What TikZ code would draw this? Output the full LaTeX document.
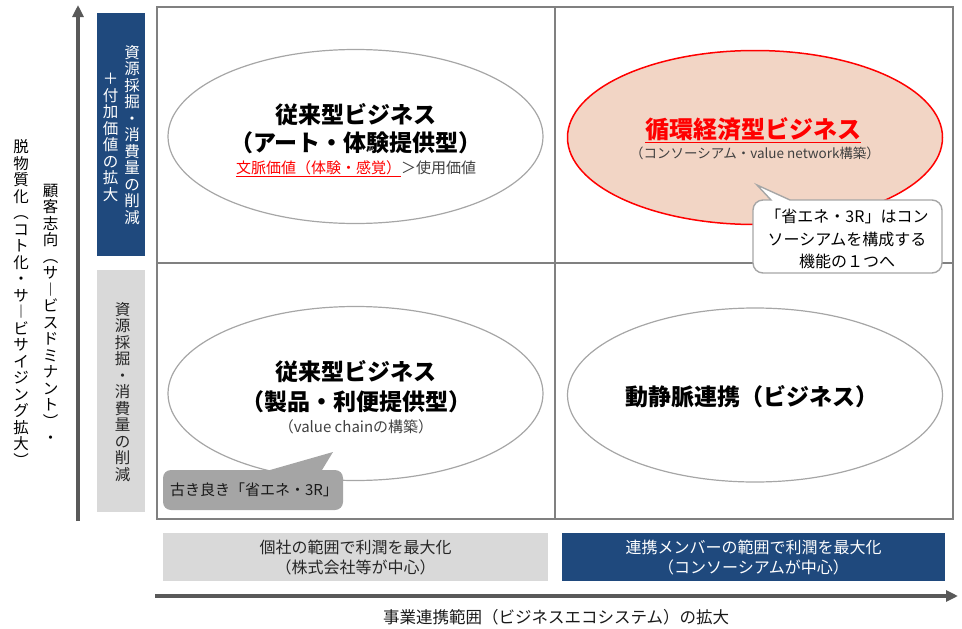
\documentclass[tikz,border=0pt]{standalone}
\usepackage{fontspec}
\setmainfont{Noto Sans CJK JP}
\usetikzlibrary{arrows.meta,shapes.geometric}
\definecolor{gridgray}{HTML}{808080}
\definecolor{ellgray}{HTML}{A6A6A6}
\definecolor{axisgray}{HTML}{595959}
\definecolor{navy}{HTML}{1F497D}
\definecolor{lightgray}{HTML}{D9D9D9}
\definecolor{midgray}{HTML}{A5A5A5}
\definecolor{peach}{HTML}{F2D5C5}
\definecolor{txtgray}{HTML}{404040}
\definecolor{pred}{HTML}{FF0000}
\newcommand{\fsz}[2]{\fontsize{#1}{#2}\selectfont}
\begin{document}
\begin{tikzpicture}[x=1pt,y=-1pt,
  gridline/.style={draw=gridgray, line width=1.8pt},
  ell/.style={ellipse, draw=ellgray, line width=1.2pt, inner sep=0pt, minimum width=375pt, minimum height=174pt},
  axisarrow/.style={draw=axisgray, line width=3.5pt, -{Triangle[length=12pt,width=11pt]}},
  bigtitle/.style={font=\fsz{23}{28}\bfseries, inner sep=0pt, text=black},
  small/.style={font=\fsz{15}{18}, inner sep=0pt, text=txtgray},
  vtext/.style={align=center, inner sep=0pt, font=\fsz{15.5}{16.5}},
  boxtext/.style={align=center, inner sep=0pt, font=\fsz{16}{20}},
  callouttext/.style={align=center, inner sep=0pt, font=\fsz{16}{22.5}, text=black}
]
\useasboundingbox (0,0) rectangle (962,629);

% grid
\draw[gridline] (157,7) rectangle (953,519);
\draw[gridline] (555,7) -- (555,519);
\draw[gridline] (157,263) -- (953,263);

% axes
\coordinate (ya) at (78,521);
\coordinate (yb) at (78,5);
\coordinate (xa) at (155,596);
\coordinate (xb) at (958,596);
\draw[axisarrow] (ya) -- (yb);
\draw[axisarrow] (xa) -- (xb);

% outer vertical labels
\node[vtext, text=black] (vl1) at (21,303) {脱\\物\\質\\化\\︵\\コ\\ト\\化\\・\\サ\\︱\\ビ\\サ\\イ\\ジ\\ン\\グ\\拡\\大\\︶};
\node[vtext, text=black] (vl2) at (50.5,314) {顧\\客\\志\\向\\︵\\サ\\︱\\ビ\\ス\\ド\\ミ\\ナ\\ン\\ト\\︶\\・};

% left label boxes
\node[fill=navy, minimum width=48pt, minimum height=243pt, inner sep=0pt] (bluebox) at (121,134.5) {};
\node[vtext, text=white] (bl1) at (132,135) {資\\源\\採\\掘\\・\\消\\費\\量\\の\\削\\減};
\node[vtext, text=white] (bl2) at (110.5,137.5) {＋\\付\\加\\価\\値\\の\\拡\\大};
\node[fill=lightgray, minimum width=48pt, minimum height=242pt, inner sep=0pt] (graybox) at (121,391) {};
\node[vtext, text=black!85] (gl1) at (122.5,392) {資\\源\\採\\掘\\・\\消\\費\\量\\の\\削\\減};

% ellipses
\node[ell] (e1) at (355.5,136.5) {};
\node[ell, fill=peach, draw=pred, line width=1.5pt] (e2) at (755,137.5) {};
\node[ell] (e3) at (355.5,393.5) {};
\node[ell] (e4) at (755,395) {};

% texts top-left
\node[bigtitle] (t1a) at (356,115) {従来型ビジネス};
\node[bigtitle] (t1b) at (356,143) {（アート・体験提供型）};
\node[small, anchor=base] (t1c) at (356,173) {{\color{pred}\underline{文脈価値（体験・感覚）}}＞使用価値};

% texts top-right
\node[bigtitle, font=\fsz{24}{28}\bfseries, text=pred, anchor=base] (t2a) at (753,138) {\underline{循環経済型ビジネス}};
\node[small, font=\fsz{13.5}{16}] (t2b) at (755,153) {（コンソーシアム・value network構築）};

% texts bottom-left
\node[bigtitle] (t3a) at (356,372) {従来型ビジネス};
\node[bigtitle] (t3b) at (356,402) {（製品・利便提供型）};
\node[small] (t3c) at (356,427) {（value chainの構築）};

% text bottom-right
\node[bigtitle] (t4) at (752,397) {動静脈連携（ビジネス）};

% callout top-right
\draw[draw=ellgray, fill=white, line width=1.4pt]
  (790,200) -- (932,200) arc[start angle=270,end angle=360,radius=10]
  -- (942,263) arc[start angle=0,end angle=90,radius=10]
  -- (763,273) arc[start angle=90,end angle=180,radius=10]
  -- (753,210) arc[start angle=180,end angle=270,radius=10]
  -- (771,200) -- (757,185) -- cycle;
\node[callouttext] (c1) at (847,239) {「省エネ・3R」はコン\\ソーシアムを構成する\\機能の１つへ};

% callout bottom-left
\fill[midgray]
  (322,470) -- (335,470) arc[start angle=270,end angle=360,radius=8]
  -- (343,502) arc[start angle=0,end angle=90,radius=8]
  -- (171,510) arc[start angle=90,end angle=180,radius=8]
  -- (163,478) arc[start angle=180,end angle=270,radius=8]
  -- (270,470) -- (333,452) -- cycle;
\node[inner sep=0pt, font=\fsz{15}{18}, text=black!90] (c2) at (254,490) {古き良き「省エネ・3R」};

% bottom boxes
\node[fill=lightgray, minimum width=385pt, minimum height=48pt, inner sep=0pt] (lb) at (355.5,557) {};
\node[boxtext, text=black!85] (lbt) at (355.5,558) {個社の範囲で利潤を最大化\\（株式会社等が中心）};
\node[fill=navy, minimum width=383pt, minimum height=48pt, inner sep=0pt] (rb) at (753.5,557) {};
\node[boxtext, text=white] (rbt) at (753.5,558) {連携メンバーの範囲で利潤を最大化\\（コンソーシアムが中心）};

% bottom label
\node[inner sep=0pt, font=\fsz{16.5}{20}, text=black!90] (xl) at (556,617) {事業連携範囲（ビジネスエコシステム）の拡大};
\end{tikzpicture}
\end{document}
